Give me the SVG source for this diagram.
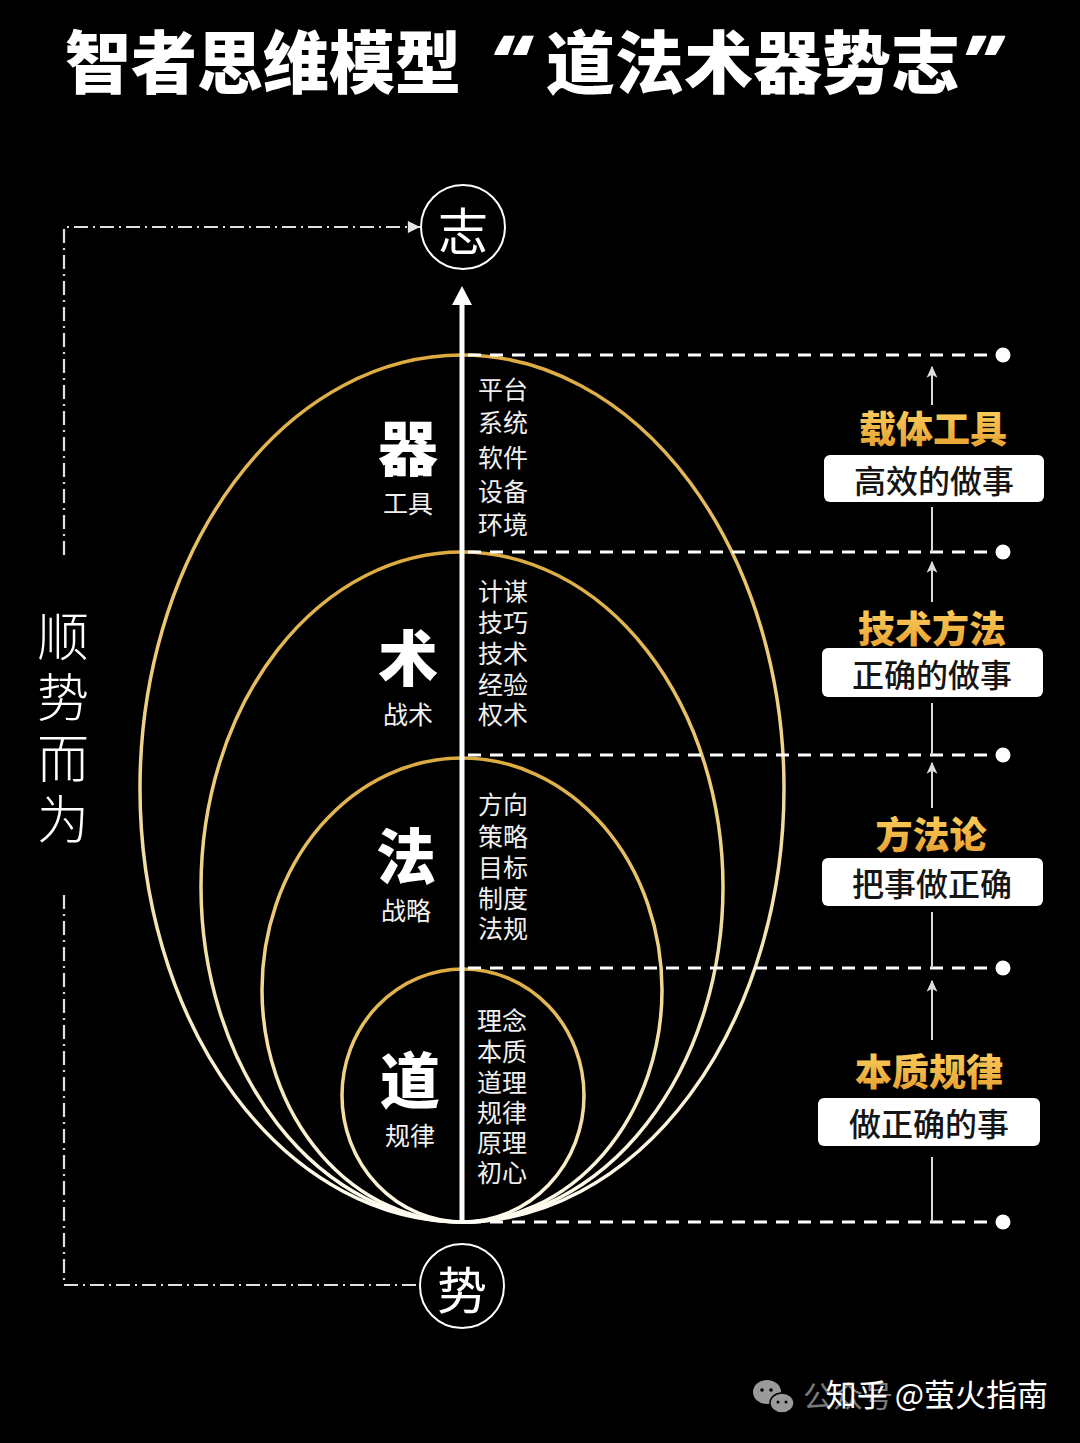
<svg xmlns="http://www.w3.org/2000/svg" width="1080" height="1443" viewBox="0 0 1080 1443">
<defs>
<linearGradient id="ring" x1="0" y1="0" x2="0" y2="1">
<stop offset="0" stop-color="#dcaa40"/>
<stop offset="0.35" stop-color="#eccb78"/>
<stop offset="0.7" stop-color="#f6e7b8"/>
<stop offset="1" stop-color="#fffdf2"/>
</linearGradient>
<linearGradient id="goldtxt" x1="0" y1="0" x2="0" y2="1">
<stop offset="0" stop-color="#ffd766"/>
<stop offset="1" stop-color="#e39a2a"/>
</linearGradient>
<marker id="dd-arrow" viewBox="0 0 10 10" refX="10" refY="5" markerWidth="6" markerHeight="5.5" orient="auto" markerUnits="strokeWidth">
<path d="M0,0 L10,5 L0,10 z" fill="#e6e6e6"/>
</marker>
<marker id="sm-arrow" viewBox="0 0 10 10" refX="9" refY="5" markerWidth="6" markerHeight="6" orient="auto" markerUnits="strokeWidth">
<path d="M0,0.5 L10,5 L0,9.5 L2.5,5 z" fill="#dcdcdc"/>
</marker>
<style>
text{font-family:"Noto Sans CJK SC","Noto Sans",sans-serif;}
.title{fill:#fff;font-size:68px;font-weight:900;}
.quote{fill:#fff;font-family:"Noto Sans",sans-serif;font-size:78px;font-weight:900;font-style:italic;}
.ring{fill:none;stroke:url(#ring);stroke-width:3.5;}
.big{fill:#fff;font-size:60px;font-weight:900;text-anchor:middle;dominant-baseline:central;}
.sub{fill:#f2f2f2;font-size:25px;font-weight:400;text-anchor:middle;dominant-baseline:central;}
.item{fill:#f0f0f0;font-size:25px;font-weight:400;dominant-baseline:central;}
.gold{fill:url(#goldtxt);font-size:37px;font-weight:900;text-anchor:middle;dominant-baseline:central;}
.box{fill:#fff;}
.boxt{fill:#151515;font-size:32px;font-weight:500;text-anchor:middle;dominant-baseline:central;}
.dash{stroke:#fff;stroke-width:3;stroke-dasharray:13 9;fill:none;}
.dot{fill:#fff;}
.dd{stroke:#e0e0e0;stroke-width:2.2;stroke-dasharray:14 5 2 5;fill:none;}
.thin{stroke:#d8d8d8;stroke-width:2;fill:none;}
.circ{fill:none;stroke:#fff;stroke-width:2;}
.circt{fill:#fff;font-size:50px;font-weight:400;text-anchor:middle;dominant-baseline:central;}
.side{fill:#fff;font-size:52px;font-weight:300;writing-mode:tb;letter-spacing:9px;}
</style>
</defs>
<rect width="1080" height="1443" fill="#000"/>

<g id="title">
<text class="title" x="65" y="88" textLength="396" lengthAdjust="spacingAndGlyphs">智者思维模型</text>
<text class="quote" x="490" y="92">“</text>
<text class="title" x="546" y="88" textLength="414" lengthAdjust="spacingAndGlyphs">道法术器势志</text>
<text class="quote" x="962" y="92">”</text>
</g>

<g id="rings">
<ellipse class="ring" cx="462" cy="788.5" rx="322" ry="433.5"/>
<ellipse class="ring" cx="462" cy="887" rx="261" ry="335"/>
<ellipse class="ring" cx="462" cy="990" rx="200" ry="232"/>
<ellipse class="ring" cx="463" cy="1095.5" rx="121" ry="126.5"/>
</g>

<g id="connectors">
<line x1="462" y1="1222" x2="462" y2="300" stroke="#fff" stroke-width="5"/>
<polygon points="462,286 452,305 472,305" fill="#fff"/>
<line class="dash" x1="468" y1="355" x2="1000" y2="355"/>
<line class="dash" x1="468" y1="552" x2="1000" y2="552"/>
<line class="dash" x1="468" y1="755" x2="1000" y2="755"/>
<line class="dash" x1="468" y1="968" x2="1000" y2="968"/>
<line class="dash" x1="468" y1="1222" x2="1000" y2="1222"/>
<circle class="dot" cx="1003" cy="355" r="7.5"/>
<circle class="dot" cx="1003" cy="552" r="7.5"/>
<circle class="dot" cx="1003" cy="755" r="7.5"/>
<circle class="dot" cx="1003" cy="968" r="7.5"/>
<circle class="dot" cx="1003" cy="1222" r="7.5"/>
<path class="dd" d="M64,555 L64,227 L420,227" marker-end="url(#dd-arrow)"/>
<path class="dd" d="M64,895 L64,1285 L420,1285"/>
<line class="thin" x1="932" y1="405" x2="932" y2="367" marker-end="url(#sm-arrow)"/>
<line class="thin" x1="932" y1="507" x2="932" y2="552"/>
<line class="thin" x1="932" y1="602" x2="932" y2="562" marker-end="url(#sm-arrow)"/>
<line class="thin" x1="932" y1="703" x2="932" y2="755"/>
<line class="thin" x1="932" y1="808" x2="932" y2="763" marker-end="url(#sm-arrow)"/>
<line class="thin" x1="932" y1="912" x2="932" y2="968"/>
<line class="thin" x1="932" y1="1040" x2="932" y2="981" marker-end="url(#sm-arrow)"/>
<line class="thin" x1="932" y1="1157" x2="932" y2="1222"/>
</g>

<g id="node-zhi">
<circle class="circ" cx="463" cy="227" r="42"/>
<text class="circt" x="463" y="228">志</text>
</g>
<g id="node-shi">
<circle class="circ" cx="462" cy="1286" r="42"/>
<text class="circt" x="462" y="1287">势</text>
</g>

<g id="node-qi">
<text class="big" x="408" y="444">器</text>
<text class="sub" x="408" y="502">工具</text>
<text class="item"><tspan x="478" y="388">平台</tspan><tspan x="478" y="421">系统</tspan><tspan x="478" y="456">软件</tspan><tspan x="478" y="490">设备</tspan><tspan x="478" y="523">环境</tspan></text>
</g>
<g id="node-shu">
<text class="big" x="408" y="654">术</text>
<text class="sub" x="408" y="713">战术</text>
<text class="item"><tspan x="478" y="590">计谋</tspan><tspan x="478" y="621">技巧</tspan><tspan x="478" y="652">技术</tspan><tspan x="478" y="683">经验</tspan><tspan x="478" y="713">权术</tspan></text>
</g>
<g id="node-fa">
<text class="big" x="406" y="852">法</text>
<text class="sub" x="406" y="909">战略</text>
<text class="item"><tspan x="478" y="803">方向</tspan><tspan x="478" y="835">策略</tspan><tspan x="478" y="866">目标</tspan><tspan x="478" y="897">制度</tspan><tspan x="478" y="927">法规</tspan></text>
</g>
<g id="node-dao">
<text class="big" x="410" y="1076">道</text>
<text class="sub" x="410" y="1134">规律</text>
<text class="item"><tspan x="477" y="1019">理念</tspan><tspan x="477" y="1050">本质</tspan><tspan x="477" y="1081">道理</tspan><tspan x="477" y="1111">规律</tspan><tspan x="477" y="1141">原理</tspan><tspan x="477" y="1171">初心</tspan></text>
</g>

<g id="label-1">
<text class="gold" x="933" y="427">载体工具</text>
<rect class="box" x="824" y="455" width="220" height="47" rx="6"/>
<text class="boxt" x="934" y="479">高效的做事</text>
</g>
<g id="label-2">
<text class="gold" x="932" y="627">技术方法</text>
<rect class="box" x="822" y="648" width="221" height="49" rx="6"/>
<text class="boxt" x="932" y="673">正确的做事</text>
</g>
<g id="label-3">
<text class="gold" x="931" y="833">方法论</text>
<rect class="box" x="822" y="858" width="221" height="48" rx="6"/>
<text class="boxt" x="932" y="882">把事做正确</text>
</g>
<g id="label-4">
<text class="gold" x="929" y="1070">本质规律</text>
<rect class="box" x="818" y="1098" width="222" height="48" rx="6"/>
<text class="boxt" x="929" y="1122">做正确的事</text>
</g>

<g id="side-label">
<text class="side" x="63" y="610">顺势而为</text>
</g>

<g id="watermark">
<ellipse cx="767" cy="1392" rx="14" ry="12" fill="#9a9a9a"/>
<ellipse cx="782" cy="1403" rx="12" ry="10" fill="#9a9a9a" stroke="#000" stroke-width="1.5"/>
<circle cx="762" cy="1390" r="1.8" fill="#000"/>
<circle cx="771" cy="1390" r="1.8" fill="#000"/>
<circle cx="778" cy="1402" r="1.5" fill="#000"/>
<circle cx="786" cy="1402" r="1.5" fill="#000"/>
<text x="803" y="1407" font-size="30" fill="#7a7a7a">公众号</text>
<text x="1048" y="1406" font-size="31" fill="#fff" text-anchor="end">知乎 @萤火指南</text>
</g>
</svg>
